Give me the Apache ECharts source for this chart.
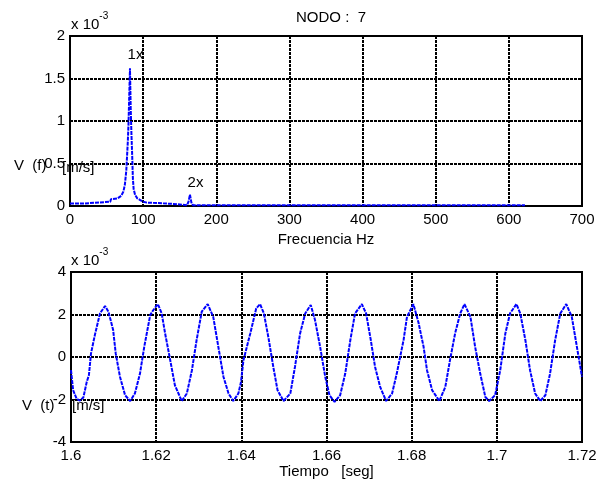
<!DOCTYPE html>
<html>
<head>
<meta charset="utf-8">
<script src="https://cdn.jsdelivr.net/npm/echarts@6/dist/echarts.min.js"></script>
<style>
  html, body { margin: 0; padding: 0; background: #fff; }
  #chart { width: 606px; height: 485px; }
</style>
</head>
<body>
<div id="chart"></div>
<script>
// espectro (x 10^-3 m/s)
const freqHz = [0, 2, 20, 21, 55, 56, 65, 70, 73, 75, 77, 79, 80, 81, 82, 83, 84, 85, 86, 87, 89, 92, 96, 100, 105, 118, 120, 140, 142, 160, 162, 164, 166, 168, 300, 500, 584, 586, 588, 622]
const specVal = [0.03, 0.03, 0.03, 0.05, 0.05, 0.08, 0.09, 0.12, 0.17, 0.25, 0.42, 0.75, 0.97, 1.3, 1.62, 1.15, 0.85, 0.6, 0.32, 0.2, 0.13, 0.09, 0.07, 0.05, 0.04, 0.035, 0.025, 0.025, 0.01, 0.01, 0.05, 0.134, 0.04, 0.01, 0.01, 0.01, 0.01, 0.02, 0.01, 0.01]

// señal temporal (x 10^-3 m/s)
const timeSeg = [1.6, 1.6005, 1.6013, 1.6021, 1.6029, 1.6037, 1.6042, 1.6047, 1.6056, 1.6068, 1.608, 1.6088, 1.6099, 1.6105, 1.6115, 1.6127, 1.6139, 1.615, 1.6162, 1.6172, 1.6186, 1.6193, 1.6204, 1.6213, 1.6221, 1.6233, 1.6244, 1.626, 1.6272, 1.6284, 1.6295, 1.6307, 1.6321, 1.6334, 1.6346, 1.6358, 1.637, 1.6381, 1.6393, 1.6399, 1.6405, 1.6421, 1.6435, 1.6444, 1.6453, 1.6464, 1.6475, 1.6485, 1.6499, 1.6515, 1.6526, 1.6538, 1.655, 1.6563, 1.6573, 1.6585, 1.6597, 1.6607, 1.6619, 1.6632, 1.6644, 1.6656, 1.6667, 1.6683, 1.6693, 1.6704, 1.6714, 1.6726, 1.674, 1.6754, 1.6765, 1.6781, 1.6789, 1.6804, 1.6816, 1.6828, 1.6836, 1.6848, 1.6865, 1.6879, 1.689, 1.6902, 1.6914, 1.6924, 1.6938, 1.6949, 1.6961, 1.6973, 1.6982, 1.6996, 1.7008, 1.702, 1.7031, 1.7046, 1.7055, 1.7067, 1.7078, 1.709, 1.7102, 1.7114, 1.7125, 1.7137, 1.7149, 1.7163, 1.7176, 1.7188, 1.72]
const timeVal = [-0.62, -1.56, -1.96, -2.05, -1.91, -1.17, -0.86, 0.17, 1.03, 2.05, 2.4, 2.13, 1.27, 0.17, -0.93, -1.8, -2.07, -1.72, -0.78, 0.48, 1.97, 2.2, 2.49, 2.05, 1.11, -0.15, -1.33, -2.07, -1.72, -0.62, 0.8, 2.13, 2.49, 1.89, 0.48, -0.93, -1.72, -2.07, -1.72, -1.2, -0.15, 1.11, 2.29, 2.49, 2.05, 0.87, -0.46, -1.56, -2.07, -1.72, -0.46, 1.11, 2.05, 2.45, 1.74, 0.48, -0.93, -1.8, -2.11, -1.8, -0.78, 0.8, 2.05, 2.49, 2.05, 0.8, -0.46, -1.41, -2.07, -1.72, -0.78, 0.8, 1.89, 2.49, 1.62, 0.48, -0.62, -1.56, -2.07, -1.41, -0.15, 1.11, 2.05, 2.49, 1.89, 0.48, -0.78, -1.88, -2.07, -1.8, -0.62, 1.11, 2.05, 2.49, 2.05, 0.8, -0.62, -1.72, -2.07, -1.8, -0.78, 0.8, 2.05, 2.49, 1.89, 0.48, -0.93]

const freqTicks = { min: 0, max: 700, interval: 100 }
const specTicks = { min: 0, max: 2, interval: 0.5 }
const timeTicks = { min: 1.6, max: 1.72, interval: 0.02 }
const voltTicks = { min: -4, max: 4, interval: 2 }

// anotaciones de armónicos: [Hz, valor]
const harmonicLabels = [
  { text: '1x', coord: [89.5, 1.78] },
  { text: '2x', coord: [171.6, 0.27] },
]

const font = 'Liberation Sans, Arial, sans-serif'
const txt = { color: '#000', fontFamily: font, fontSize: 15 }

const gridLine = { show: true, lineStyle: { color: '#000', width: 2, type: [3, 1] } }

const xAxisBase = (ticks, name, gap, idx, fmt) => ({
  type: 'value',
  gridIndex: idx,
  ...ticks,
  name,
  nameLocation: 'middle',
  nameGap: gap,
  nameTextStyle: txt,
  axisLine: { show: false, onZero: false },
  axisTick: { show: false },
  splitLine: gridLine,
  axisLabel: { ...txt, margin: 6, formatter: fmt },
})

const yAxisBase = (ticks, idx) => ({
  type: 'value',
  gridIndex: idx,
  ...ticks,
  axisLine: { show: false },
  axisTick: { show: false },
  splitLine: gridLine,
  axisLabel: { ...txt, margin: 5 },
})

const superLabel = (left, top) => ({
  type: 'text',
  left,
  top,
  style: {
    text: '{b|x 10}{s|-3}',
    rich: {
      b: { ...txt, verticalAlign: 'bottom', padding: [6, 0, 0, 0] },
      s: { ...txt, fontSize: 10, verticalAlign: 'top' },
    },
  },
})

const chart = echarts.init(document.getElementById('chart'))
chart.setOption({
  animation: false,
  title: {
    text: 'NODO :  7',
    left: 326,
    top: 5,
    textAlign: 'center',
    textStyle: { ...txt, fontWeight: 'normal' },
  },
  grid: [
    { left: 70, right: 24, top: 36, height: 170, show: true, borderColor: '#000', borderWidth: 2 },
    { left: 71, right: 24, top: 272, height: 170, show: true, borderColor: '#000', borderWidth: 2 },
  ],
  xAxis: [
    xAxisBase(freqTicks, 'Frecuencia Hz', 26, 0),
    xAxisBase(timeTicks, 'Tiempo   [seg]', 22, 1, (v) => String(+v.toFixed(2))),
  ],
  yAxis: [yAxisBase(specTicks, 0), yAxisBase(voltTicks, 1)],
  series: [
    {
      type: 'line',
      xAxisIndex: 0,
      yAxisIndex: 0,
      data: freqHz.map((f, i) => [f, specVal[i]]),
      symbol: 'none',
      lineStyle: { color: '#0000ff', width: 2, type: [4, 1] },
      markPoint: {
        symbol: 'circle',
        symbolSize: 0,
        label: { show: true, position: 'inside', ...txt, formatter: (p) => p.name },
        data: harmonicLabels.map((h) => ({ name: h.text, coord: h.coord })),
      },
    },
    {
      type: 'line',
      xAxisIndex: 1,
      yAxisIndex: 1,
      data: timeSeg.map((t, i) => [t, timeVal[i]]),
      symbol: 'none',
      lineStyle: { color: '#0000ff', width: 2, type: [4, 1] },
    },
  ],
  graphic: [
    superLabel(71, 11),
    superLabel(71, 247),
    { type: 'text', left: 14, top: 158, style: { ...txt, text: 'V  (f)' } },
    { type: 'text', left: 62, top: 160, style: { ...txt, text: '[m/s]' } },
    { type: 'text', left: 22, top: 398, style: { ...txt, text: 'V  (t)' } },
    { type: 'text', left: 72, top: 398, style: { ...txt, text: '[m/s]' } },
  ],
})
</script>
</body>
</html>
